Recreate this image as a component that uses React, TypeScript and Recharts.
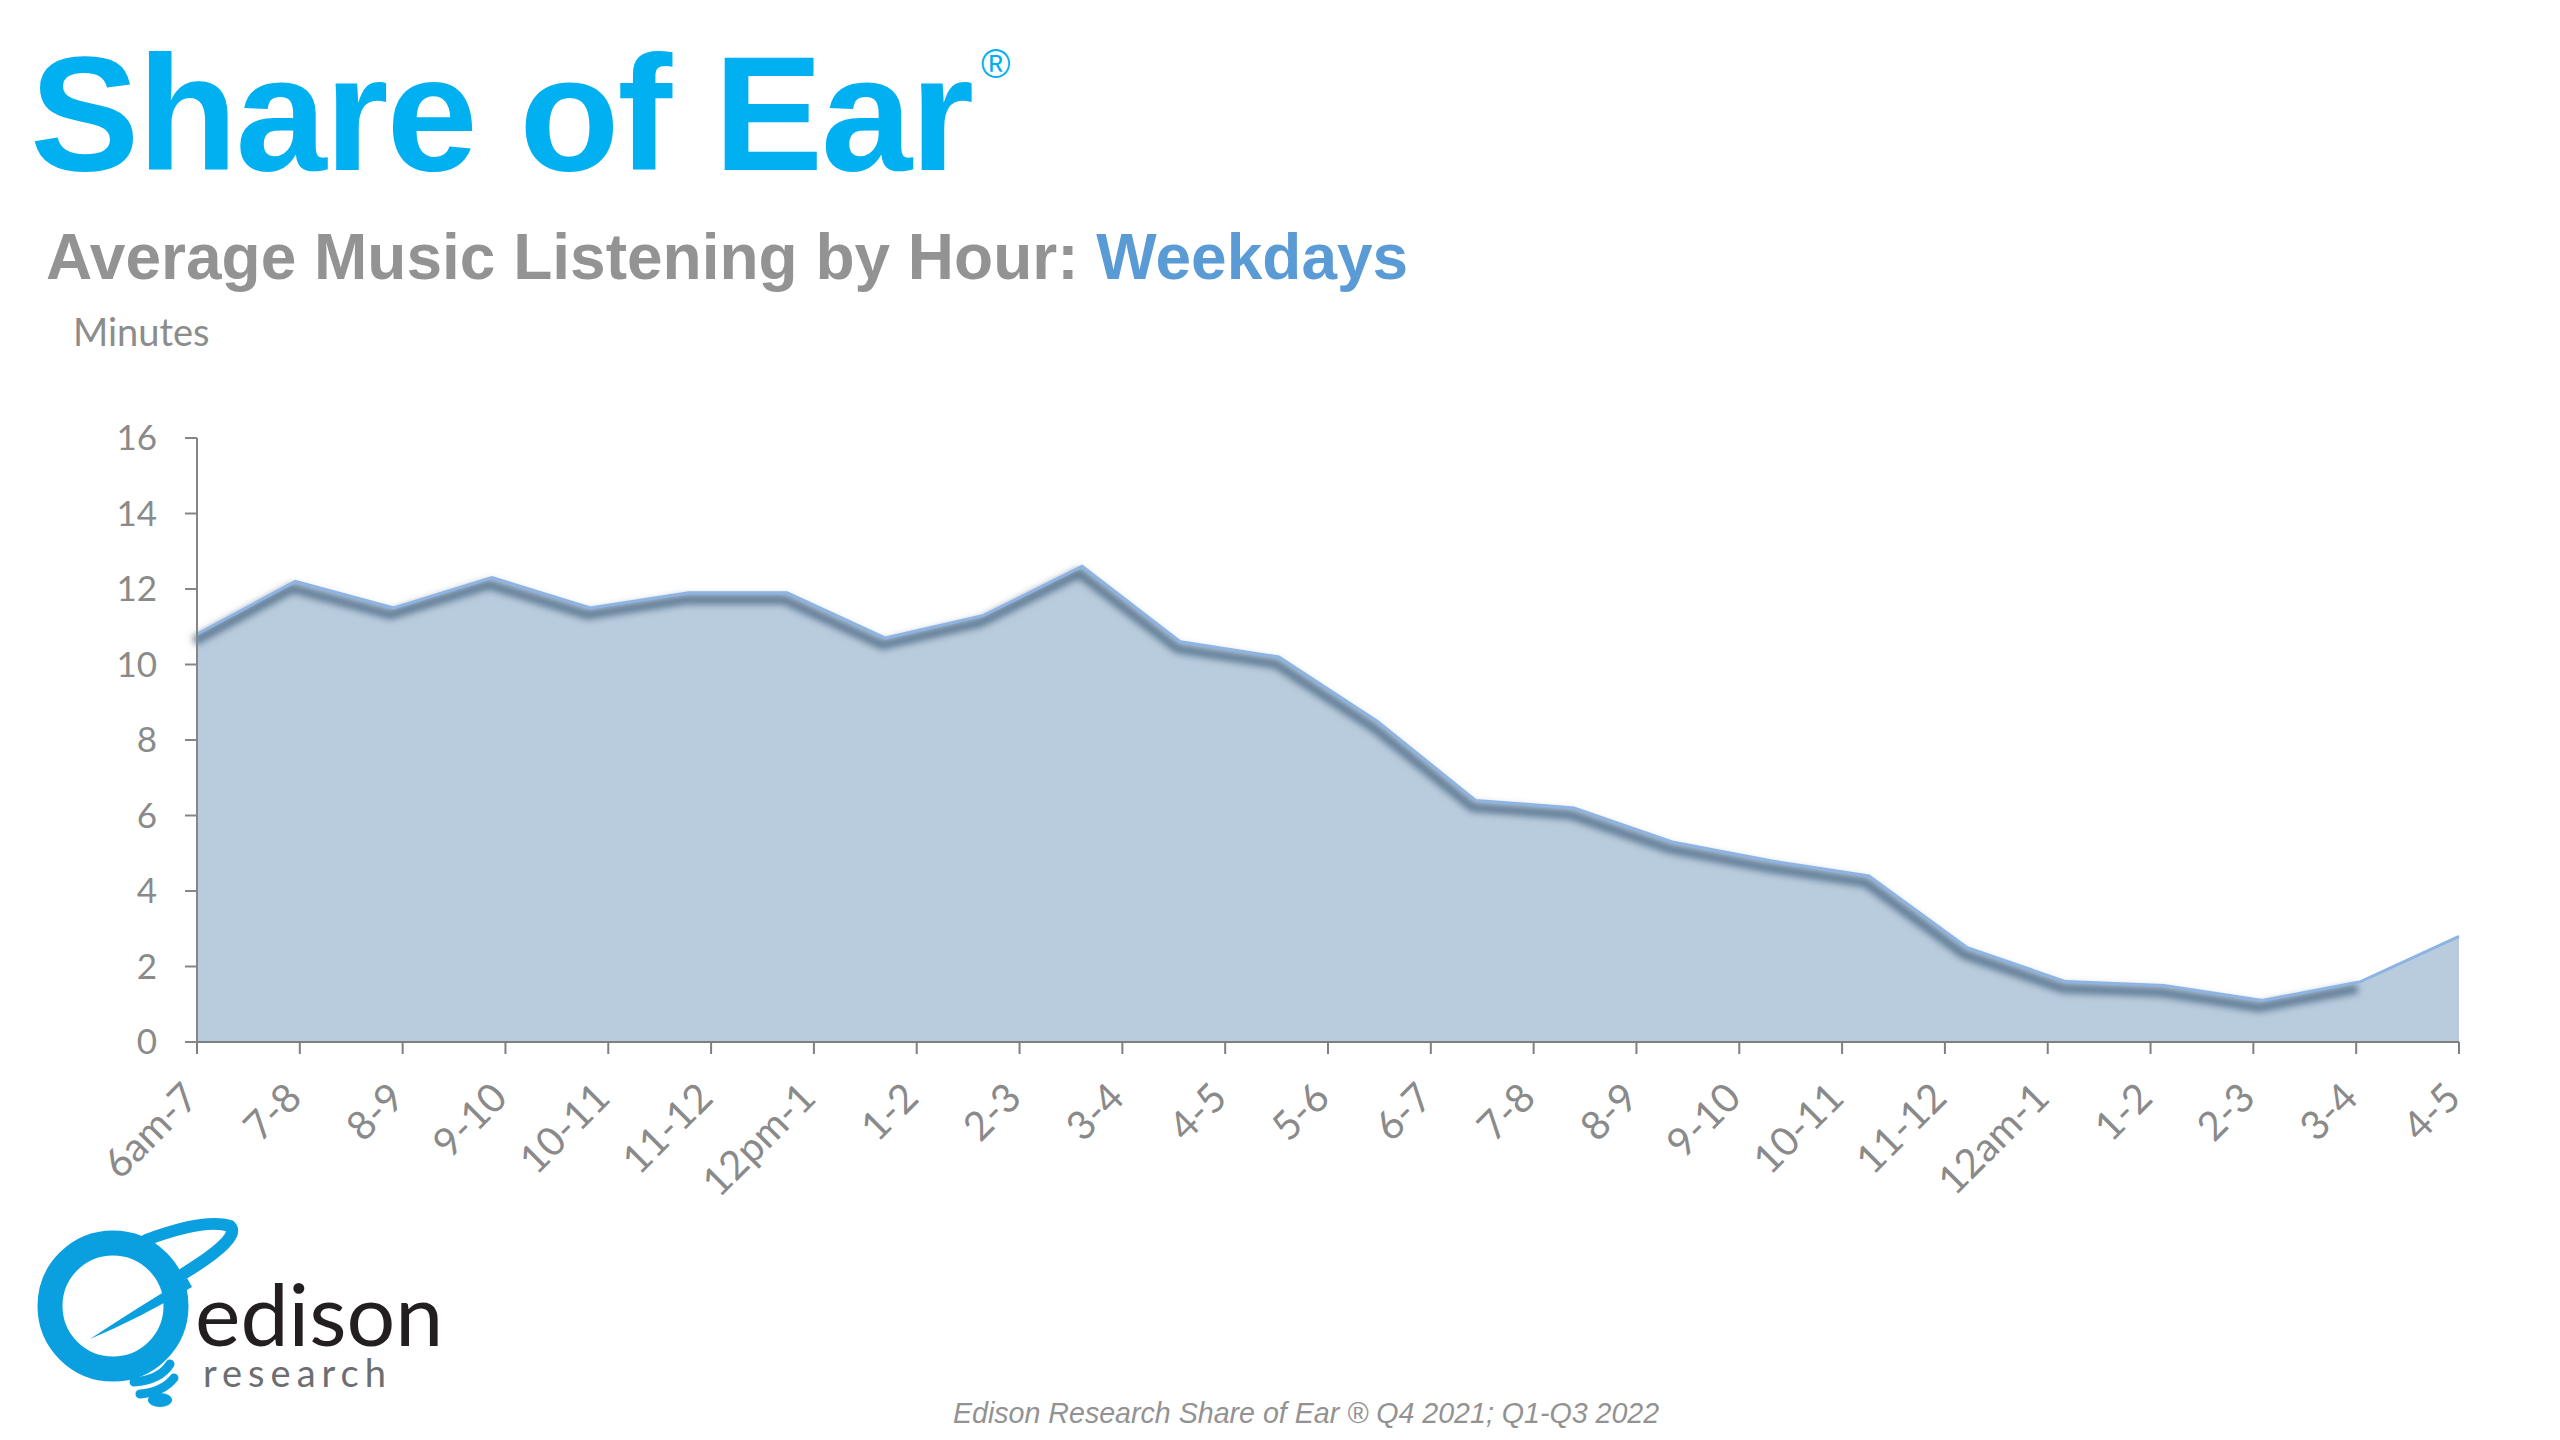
import React from "react";
import { ComposedChart, Area, Line, XAxis, YAxis } from "recharts";

// Hour-band labels shown on the category axis (23 labels)
const hourLabels: string[] = [
  "6am-7", "7-8", "8-9", "9-10", "10-11", "11-12", "12pm-1", "1-2", "2-3", "3-4", "4-5",
  "5-6", "6-7", "7-8", "8-9", "9-10", "10-11", "11-12", "12am-1", "1-2", "2-3", "3-4", "4-5",
];

// Average minutes of music listening (24 plotted points)
const minutes: number[] = [
  10.8, 12.2, 11.5, 12.3, 11.5, 11.9, 11.9, 10.7, 11.3, 12.6, 10.6, 10.2,
  8.5, 6.4, 6.2, 5.3, 4.8, 4.4, 2.5, 1.6, 1.5, 1.1, 1.6, 2.8,
];

const yTicks: number[] = [0, 2, 4, 6, 8, 10, 12, 14, 16];

const chartData = minutes.map((v, i) => ({
  pos: i,
  minutes: v,
  shadow: i < minutes.length - 1 ? v : null,
}));

const lastPos = minutes.length - 1;
const xTicks = hourLabels.map((_, i) => (i * lastPos) / (hourLabels.length - 1));

const TICK_COLOR = "#8A8A8A";

const XTick = (props: any) => {
  const { x, y, payload } = props;
  const idx = Math.round((payload.value * (hourLabels.length - 1)) / lastPos);
  return (
    <g transform={`translate(${x + 4},${y + 46})`}>
      <text
        textAnchor="end"
        transform="rotate(-45)"
        fill={TICK_COLOR}
        fontFamily="Lato, 'Open Sans', sans-serif"
        fontSize={40}
      >
        {hourLabels[idx]}
      </text>
    </g>
  );
};

export default function App() {
  return (
    <div
      style={{
        position: "absolute",
        left: 0,
        top: 0,
        width: 2560,
        height: 1440,
        background: "#ffffff",
        overflow: "hidden",
      }}
    >
      <svg
        width={2560}
        height={1440}
        style={{ position: "absolute", left: 0, top: 0 }}
      >
        <text
          x={30}
          y={170}
          fill="#00B0F0"
          fontFamily="'Liberation Sans', Arial, sans-serif"
          fontWeight="bold"
          fontSize={164}
          letterSpacing={-2}
        >
          Share of Ear
        </text>
        <text
          x={981}
          y={78}
          fill="#00B0F0"
          fontFamily="'Liberation Sans', Arial, sans-serif"
          fontSize={40}
        >
          ®
        </text>
        <text
          x={46}
          y={279}
          fontFamily="'Liberation Sans', Arial, sans-serif"
          fontWeight="bold"
          fontSize={64}
        >
          <tspan fill="#939393">Average Music Listening by Hour: </tspan>
          <tspan fill="#5B9BD5">Weekdays</tspan>
        </text>
        <text
          x={73}
          y={346}
          fill="#8C8C8C"
          fontFamily="Lato, 'Open Sans', sans-serif"
          fontSize={38}
        >
          Minutes
        </text>

        {/* logo */}
        <g>
          <circle cx={113} cy={1306} r={63} fill="none" stroke="#0AA0E0" strokeWidth={25} />
          <path d="M90,1339 Q140,1318 192,1287 L187,1278 Q140,1306 90,1339 Z" fill="#0AA0E0" />
          <path
            d="M146,1240 Q205,1218 230,1226 Q242,1238 183,1274"
            fill="none"
            stroke="#0AA0E0"
            strokeWidth={12}
            strokeLinecap="round"
          />
          <path d="M134,1382 Q160,1380 170,1364" fill="none" stroke="#0AA0E0" strokeWidth={9} strokeLinecap="round" />
          <path d="M140,1394 Q163,1392 174,1378" fill="none" stroke="#0AA0E0" strokeWidth={9} strokeLinecap="round" />
          <ellipse cx={160} cy={1400} rx={12} ry={7} fill="#0AA0E0" />
        </g>
        <text x={195} y={1346} fill="#231F20" fontFamily="Lato, 'Open Sans', sans-serif" fontSize={86}>
          edison
        </text>
        <text
          x={203}
          y={1387}
          fill="#6D6E71"
          fontFamily="Lato, 'Open Sans', sans-serif"
          fontSize={38}
          letterSpacing={6}
        >
          research
        </text>

        <text
          x={953}
          y={1423}
          fill="#929292"
          fontFamily="'Liberation Sans', Arial, sans-serif"
          fontStyle="italic"
          fontSize={28.6}
        >
          Edison Research Share of Ear ® Q4 2021; Q1-Q3 2022
        </text>
      </svg>

      <div style={{ position: "absolute", left: 0, top: 0 }}>
        <ComposedChart
          width={2560}
          height={1440}
          data={chartData}
          margin={{ top: 438, right: 101, bottom: 0, left: 0 }}
        >
          <defs>
            <filter id="edgeShadow" x="-10%" y="-30%" width="120%" height="160%">
              <feOffset dx={-3} dy={7} />
              <feGaussianBlur stdDeviation={3.5} />
            </filter>
          </defs>
          <XAxis
            dataKey="pos"
            type="number"
            domain={[0, lastPos]}
            ticks={xTicks}
            interval={0}
            height={398}
            tickSize={12}
            tickMargin={0}
            axisLine={{ stroke: "#7F7F7F", strokeWidth: 2 }}
            tickLine={{ stroke: "#7F7F7F", strokeWidth: 2 }}
            tick={<XTick />}
          />
          <YAxis
            type="number"
            domain={[0, 16]}
            ticks={yTicks}
            interval={0}
            width={197}
            tickSize={12}
            tickMargin={28}
            axisLine={{ stroke: "#868686", strokeWidth: 2 }}
            tickLine={{ stroke: "#868686", strokeWidth: 2 }}
            tick={{ fill: TICK_COLOR, fontSize: 35, fontFamily: "Lato, 'Open Sans', sans-serif" }}
          />
          <Area
            type="linear"
            dataKey="minutes"
            fill="#B9CCDE"
            fillOpacity={1}
            stroke="none"
            isAnimationActive={false}
          />
          <Line
            type="linear"
            dataKey="shadow"
            stroke="#4E6A85"
            strokeWidth={9}
            strokeOpacity={0.85}
            dot={false}
            activeDot={false}
            filter="url(#edgeShadow)"
            isAnimationActive={false}
          />
          <Line
            type="linear"
            dataKey="minutes"
            stroke="#8DB4E3"
            strokeWidth={3}
            dot={false}
            activeDot={false}
            isAnimationActive={false}
          />
        </ComposedChart>
      </div>
    </div>
  );
}
